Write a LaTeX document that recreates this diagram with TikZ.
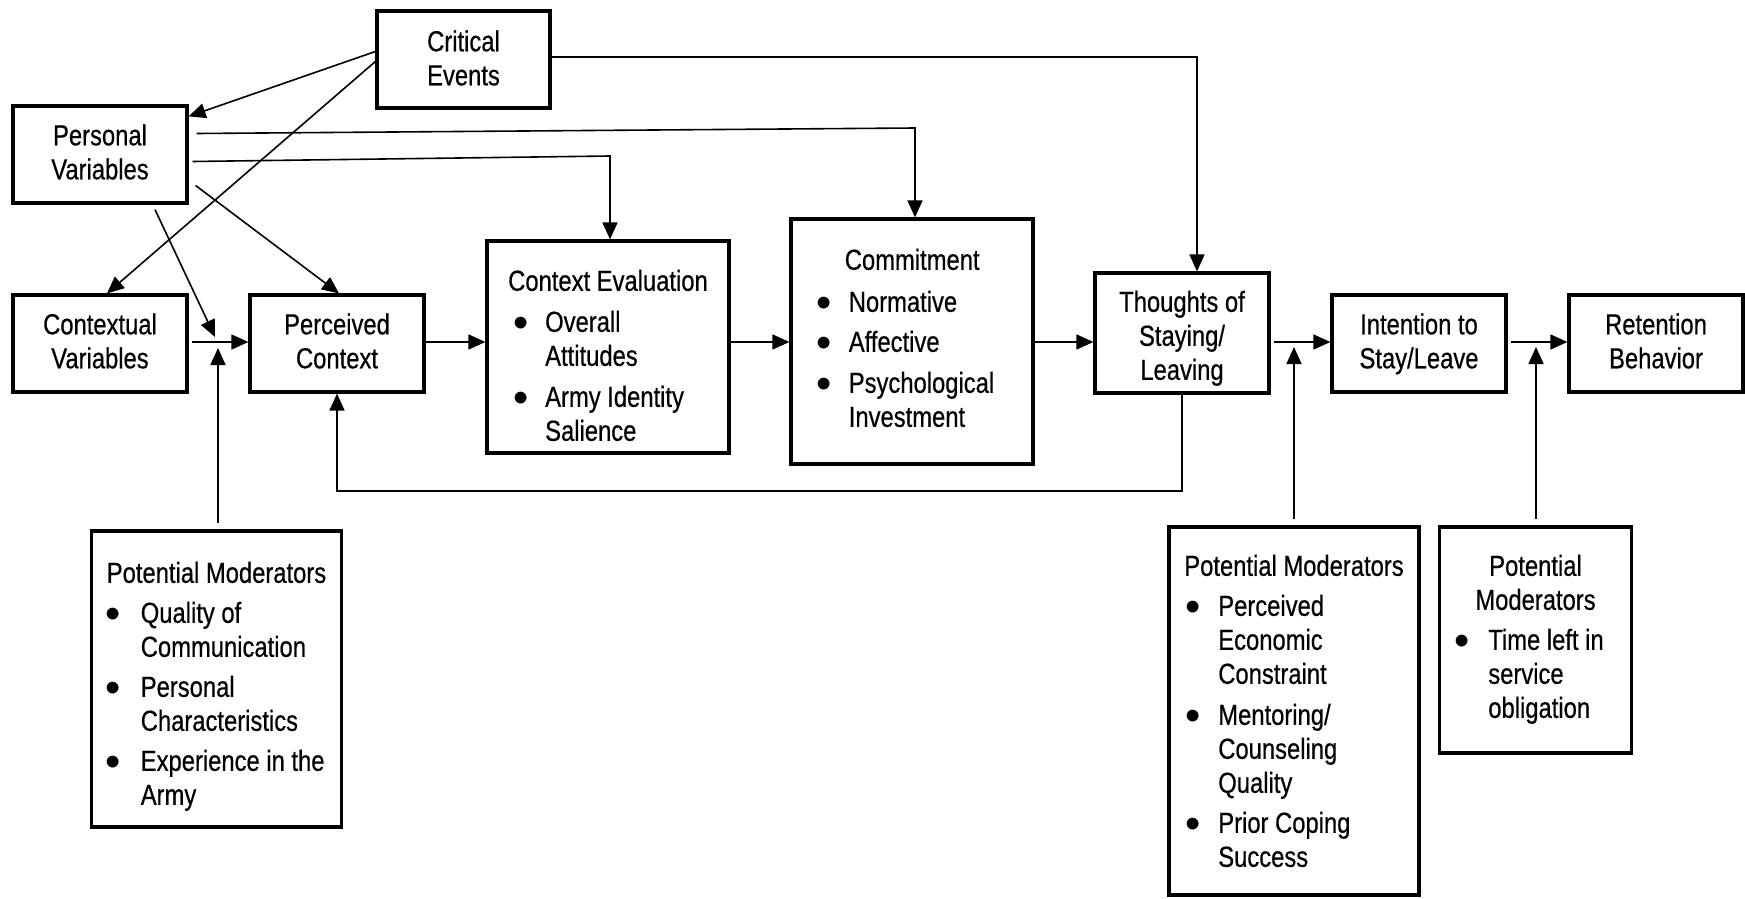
\documentclass[tikz,border=0pt]{standalone}
\usepackage{fontspec}
\setmainfont[FakeStretch=0.82,FakeBold=0.5]{Liberation Sans}
\newfontfamily\bulfont{Liberation Sans}
\usetikzlibrary{arrows.meta,calc}
\newcommand{\tb}[3]{\raisebox{-#2}[\height][\depth]{\hspace*{#1}#3\hspace*{-#1}}}
\newcommand{\tc}[1]{\begin{tabular}{@{}c@{}}#1\end{tabular}}
\newcommand{\bul}[2]{\makebox[#1][l]{\hspace*{#2}\hspace*{-3pt}\raisebox{-5.5pt}{\scalebox{1.5}{\bulfont\textbullet}}}}
\begin{document}
\begin{tikzpicture}[x=1pt,y=-1pt,
  every node/.style={font=\fontsize{29}{34}\selectfont},
  box/.style={draw=black,line width=3.2pt,inner sep=0pt},
  arr/.style={draw=black,line width=1.6pt,-{Triangle[length=17pt,width=15pt]}}]
\fill[white] (0,0) rectangle (1745,899);
\useasboundingbox (0,0) rectangle (1745,899);

% boxes
\node[box,minimum width=173pt,minimum height=97pt] (ce) at (463.5,59.5) {\tb{0pt}{2pt}{\tc{Critical\\Events}}};
\node[box,minimum width=174pt,minimum height=97pt] (pv) at (100,154.5) {\tb{0pt}{1pt}{\tc{Personal\\Variables}}};
\node[box,minimum width=174pt,minimum height=97pt] (cv) at (100,343.5) {\tb{0pt}{1pt}{\tc{Contextual\\Variables}}};
\node[box,minimum width=174pt,minimum height=97pt] (pc) at (337,343.5) {\tb{0pt}{1pt}{\tc{Perceived\\Context}}};
\node[box,minimum width=242pt,minimum height=212pt] (cev) at (608,347) {\tb{0pt}{12pt}{\begin{tabular}{@{}l@{}l@{}}
  \multicolumn{2}{@{}l@{}}{Context Evaluation}\\[7pt]
  \bul{37pt}{8pt} & Overall\\
   & Attitudes\\[7pt]
  \bul{37pt}{8pt} & Army Identity\\
   & Salience\end{tabular}}};
\node[box,minimum width=242pt,minimum height=245pt] (com) at (912,341.5) {\tb{-5pt}{0pt}{\begin{tabular}{@{}l@{}l@{}}
  \multicolumn{2}{@{}l@{}}{\hspace*{25pt}Commitment}\\[8pt]
  \bul{29pt}{0pt} & Normative\\[6pt]
  \bul{29pt}{0pt} & Affective\\[7pt]
  \bul{29pt}{0pt} & Psychological\\
   & Investment\end{tabular}}};
\node[box,minimum width=174pt,minimum height=120pt] (th) at (1182,333) {\tb{0pt}{6pt}{\tc{Thoughts of\\Staying/\\Leaving}}};
\node[box,minimum width=174pt,minimum height=97pt] (itn) at (1419,343.5) {\tb{0pt}{1pt}{\tc{Intention to\\Stay/Leave}}};
\node[box,minimum width=174pt,minimum height=97pt] (re) at (1656,343.5) {\tb{0pt}{1pt}{\tc{Retention\\Behavior}}};
\node[box,minimum width=250pt,minimum height=296pt] (pm1) at (216.5,679) {\tb{0pt}{8pt}{\begin{tabular}{@{}l@{}l@{}}
  \multicolumn{2}{@{}l@{}}{Potential Moderators}\\[6pt]
  \bul{34pt}{2pt} & Quality of\\
   & Communication\\[6pt]
  \bul{34pt}{2pt} & Personal\\
   & Characteristics\\[6pt]
  \bul{34pt}{2pt} & Experience in the\\
   & Army\end{tabular}}};
\node[box,minimum width=250pt,minimum height=368pt] (pm2) at (1294,711) {\tb{0pt}{3.5pt}{\begin{tabular}{@{}l@{}l@{}}
  \multicolumn{2}{@{}l@{}}{Potential Moderators}\\[6pt]
  \bul{34pt}{4pt} & Perceived\\
   & Economic\\
   & Constraint\\[7pt]
  \bul{34pt}{4pt} & Mentoring/\\
   & Counseling\\
   & Quality\\[6pt]
  \bul{34pt}{4pt} & Prior Coping\\
   & Success\end{tabular}}};
\node[box,minimum width=192pt,minimum height=226pt] (pm3) at (1535.5,640) {\tb{-5pt}{0pt}{\begin{tabular}{@{}l@{}l@{}}
  \multicolumn{2}{@{}c@{}}{\hspace*{10pt}Potential}\\
  \multicolumn{2}{@{}c@{}}{\hspace*{10pt}Moderators}\\[6pt]
  \bul{31pt}{0pt} & Time left in\\
   & service\\
   & obligation\end{tabular}}};

% helper coordinates
\coordinate (j1) at (218,342);
\coordinate (j2) at (1294,342);
\coordinate (j3) at (1536,342);
\coordinate (k1) at (915,128);
\coordinate (k2) at (610,156);
\coordinate (k3) at (1197,57);
\coordinate (fb) at (700,491);

% critical events
\draw[arr] ($(ce.west)+(0,-8)$) -- ($(pv.north east)+(0,12)$);
\draw[arr] ($(ce.west)+(0,2)$) -- ($(cv.north)+(7,0)$);
\draw[arr] (ce.east |- k3) -- (k3) -- (th.north -| k3);

% personal variables
\draw[arr] ($(pv.east)+(8,-21)$) -- (k1) -- (com.north -| k1);
\draw[arr] ($(pv.east)+(4,7)$) -- (k2) -- (cev.north -| k2);
\draw[arr] ($(pv.east)+(7,31)$) -- ($(pc.north)+(2,0)$);
\draw[arr] ($(pv.south)+(55,5)$) -- ($(j1)+(-3,-5)$);

% main flow
\draw[arr] ($(cv.east |- j1)+(3,0)$) -- (pc.west |- j1);
\draw[arr] ($(pm1.north -| j1)+(0,-6)$) -- ($(j1)+(0,6)$);
\draw[arr] (pc.east |- j1) -- (cev.west |- j1);
\draw[arr] (cev.east |- j1) -- (com.west |- j1);
\draw[arr] (com.east |- j1) -- (th.west |- j1);
\draw[arr] ($(th.east |- j2)+(3,0)$) -- (itn.west |- j2);
\draw[arr] ($(pm2.north -| j2)+(0,-6)$) -- ($(j2)+(0,5)$);
\draw[arr] ($(itn.east |- j3)+(3,0)$) -- (re.west |- j3);
\draw[arr] ($(pm3.north -| j3)+(0,-6)$) -- ($(j3)+(0,5)$);

% feedback
\draw[arr] (th.south) |- (fb) -| (pc.south);
\end{tikzpicture}
\end{document}
